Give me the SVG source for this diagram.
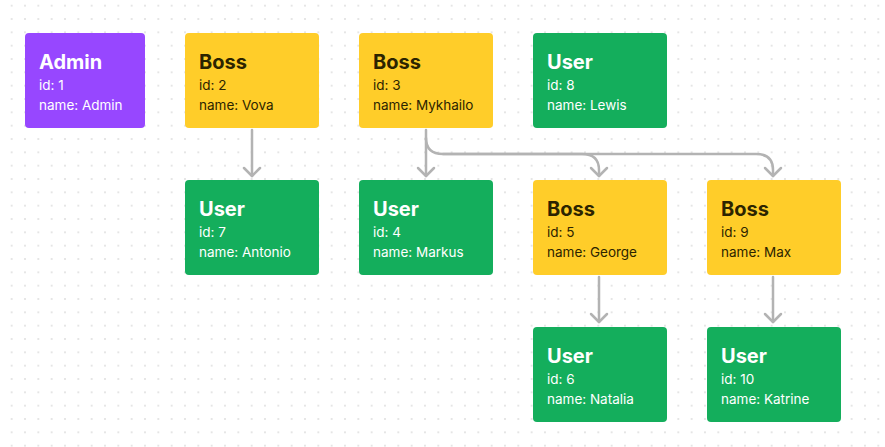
<svg xmlns="http://www.w3.org/2000/svg" width="885" height="447" viewBox="0 0 885 447">
<defs>
<pattern id="dots" x="5" y="-1" width="13.333" height="13.333" patternUnits="userSpaceOnUse">
<circle cx="6.67" cy="6.67" r="0.9" fill="#d9d9d9"/>
</pattern>
<marker id="arr" viewBox="-11 -11 13 22" refX="0" refY="0" markerWidth="13" markerHeight="22" markerUnits="userSpaceOnUse" orient="auto" overflow="visible">
<path d="M-8,-8 L0,0 L-8,8" fill="none" stroke="#b3b3b3" stroke-width="2.5" stroke-linecap="round" stroke-linejoin="round"/>
</marker>
</defs>
<style>
.box{rx:4;ry:4}
.admin{fill:#9747FF}
.boss{fill:#FFCD29}
.user{fill:#14AE5C}
.t{font-family:Inter,"Noto Sans",sans-serif;font-weight:700;font-size:20px}
.s{font-family:Inter,"Noto Sans",sans-serif;font-size:13.5px}
.lt{fill:#ffffff}
.dk{fill:#2c2400}
.con{fill:none;stroke:#b3b3b3;stroke-width:2.5;stroke-linecap:round;stroke-linejoin:round}
</style>
<rect width="885" height="447" fill="#ffffff"/>
<rect width="885" height="447" fill="url(#dots)"/>
<g id="connectors" class="con">
<path d="M252,130 V176" marker-end="url(#arr)"/>
<path d="M426,130 V176" marker-end="url(#arr)"/>
<path d="M426,138 Q426,154 443,154 H582 Q599,154 599,170 V176" marker-end="url(#arr)"/>
<path d="M443,154 H756 Q773,154 773,170 V176" marker-end="url(#arr)"/>
<path d="M599,277 V322" marker-end="url(#arr)"/>
<path d="M773,277 V322" marker-end="url(#arr)"/>
</g>
<g id="admin1"><rect class="box admin" x="25" y="33" width="120" height="95"/><text class="t lt" x="39" y="69">Admin</text><text class="s lt" x="39" y="90">id: 1</text><text class="s lt" x="39" y="110">name: Admin</text></g>
<g id="boss2"><rect class="box boss" x="185" y="33" width="134" height="95"/><text class="t dk" x="199" y="69">Boss</text><text class="s dk" x="199" y="90">id: 2</text><text class="s dk" x="199" y="110">name: Vova</text></g>
<g id="boss3"><rect class="box boss" x="359" y="33" width="134" height="95"/><text class="t dk" x="373" y="69">Boss</text><text class="s dk" x="373" y="90">id: 3</text><text class="s dk" x="373" y="110">name: Mykhailo</text></g>
<g id="user8"><rect class="box user" x="533" y="33" width="134" height="95"/><text class="t lt" x="547" y="69">User</text><text class="s lt" x="547" y="90">id: 8</text><text class="s lt" x="547" y="110">name: Lewis</text></g>
<g id="user7"><rect class="box user" x="185" y="180" width="134" height="95"/><text class="t lt" x="199" y="216">User</text><text class="s lt" x="199" y="237">id: 7</text><text class="s lt" x="199" y="257">name: Antonio</text></g>
<g id="user4"><rect class="box user" x="359" y="180" width="134" height="95"/><text class="t lt" x="373" y="216">User</text><text class="s lt" x="373" y="237">id: 4</text><text class="s lt" x="373" y="257">name: Markus</text></g>
<g id="boss5"><rect class="box boss" x="533" y="180" width="134" height="95"/><text class="t dk" x="547" y="216">Boss</text><text class="s dk" x="547" y="237">id: 5</text><text class="s dk" x="547" y="257">name: George</text></g>
<g id="boss9"><rect class="box boss" x="707" y="180" width="134" height="95"/><text class="t dk" x="721" y="216">Boss</text><text class="s dk" x="721" y="237">id: 9</text><text class="s dk" x="721" y="257">name: Max</text></g>
<g id="user6"><rect class="box user" x="533" y="327" width="134" height="95"/><text class="t lt" x="547" y="363">User</text><text class="s lt" x="547" y="384">id: 6</text><text class="s lt" x="547" y="404">name: Natalia</text></g>
<g id="user10"><rect class="box user" x="707" y="327" width="134" height="95"/><text class="t lt" x="721" y="363">User</text><text class="s lt" x="721" y="384">id: 10</text><text class="s lt" x="721" y="404">name: Katrine</text></g>
</svg>
